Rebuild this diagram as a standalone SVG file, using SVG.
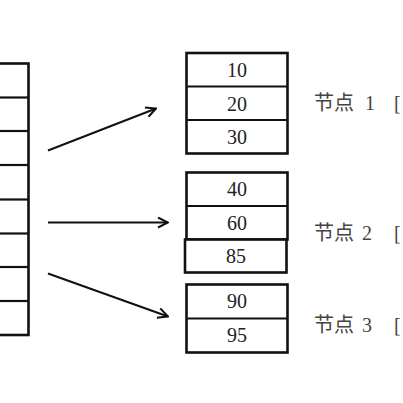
<svg xmlns="http://www.w3.org/2000/svg" width="403" height="403" viewBox="0 0 403 403">
<defs>
<style>
.box{fill:#fff;stroke:#111;stroke-width:2.6}
.cell{fill:none;stroke:#111;stroke-width:2.2}
.num{font-family:"Liberation Serif","Noto Sans CJK SC",serif;font-size:20px;fill:#222;text-anchor:middle}
.lbl{font-family:"Liberation Serif","Noto Sans CJK SC",serif;font-size:20px;fill:#444}
.conn{stroke:#111;stroke-width:2;fill:none}
</style>
<marker id="arr" viewBox="0 0 12 12" refX="11" refY="6" markerWidth="12" markerHeight="12" markerUnits="userSpaceOnUse" orient="auto">
<path d="M1,1 L11,6 L1,11" fill="none" stroke="#111" stroke-width="2"/>
</marker>
</defs>
<rect width="403" height="403" fill="#fff"/>
<g id="array">
<rect class="box" x="-5" y="63.5" width="33.5" height="271.5"/>
<line class="cell" x1="0" y1="97.5" x2="28.5" y2="97.5"/>
<line class="cell" x1="0" y1="131" x2="28.5" y2="131"/>
<line class="cell" x1="0" y1="165" x2="28.5" y2="165"/>
<line class="cell" x1="0" y1="199.5" x2="28.5" y2="199.5"/>
<line class="cell" x1="0" y1="233.5" x2="28.5" y2="233.5"/>
<line class="cell" x1="0" y1="267" x2="28.5" y2="267"/>
<line class="cell" x1="0" y1="301" x2="28.5" y2="301"/>
</g>
<g id="connectors">
<line class="conn" x1="48" y1="150.5" x2="156" y2="108.5" marker-end="url(#arr)"/>
<line class="conn" x1="48" y1="222.5" x2="168" y2="222.5" marker-end="url(#arr)"/>
<line class="conn" x1="48" y1="273.5" x2="168" y2="316.5" marker-end="url(#arr)"/>
</g>
<g id="node1">
<rect class="box" x="186.5" y="53" width="101" height="100.5"/>
<line class="cell" x1="186.5" y1="86.5" x2="287.5" y2="86.5"/>
<line class="cell" x1="186.5" y1="120" x2="287.5" y2="120"/>
<text class="num" x="237" y="77">10</text>
<text class="num" x="237" y="110.5">20</text>
<text class="num" x="237" y="144">30</text>
<text class="lbl" x="314" y="110">节点<tspan x="365">1</tspan></text>
<text class="lbl" x="394" y="110">[</text>
</g>
<g id="node2">
<rect class="box" x="186.5" y="172.5" width="101" height="67"/>
<line class="cell" x1="186.5" y1="206" x2="287.5" y2="206"/>
<rect class="box" x="185" y="239.5" width="101.5" height="33"/>
<text class="num" x="237" y="196">40</text>
<text class="num" x="237" y="229.5">60</text>
<text class="num" x="236" y="263">85</text>
<text class="lbl" x="314" y="240">节点<tspan x="362">2</tspan></text>
<text class="lbl" x="394" y="240">[</text>
</g>
<g id="node3">
<rect class="box" x="186.5" y="284.5" width="101" height="68"/>
<line class="cell" x1="186.5" y1="318.5" x2="287.5" y2="318.5"/>
<text class="num" x="237" y="308">90</text>
<text class="num" x="237" y="342">95</text>
<text class="lbl" x="314" y="332">节点<tspan x="362">3</tspan></text>
<text class="lbl" x="394" y="332">[</text>
</g>
</svg>
